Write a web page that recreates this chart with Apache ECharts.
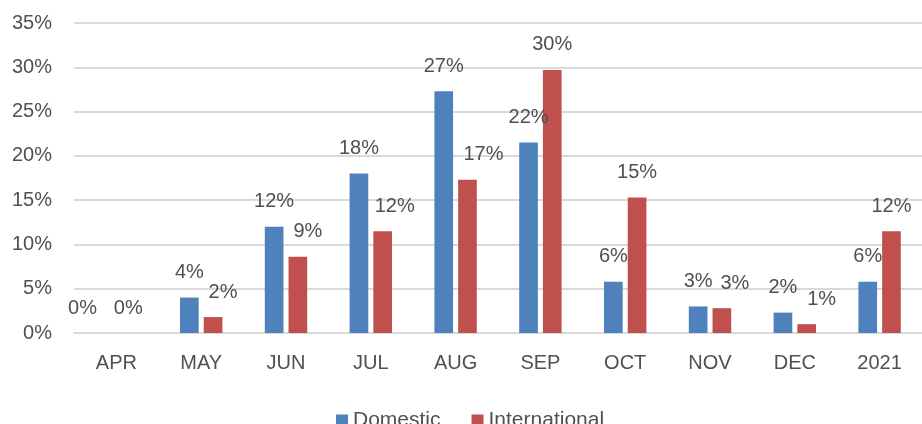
<!DOCTYPE html>
<html>
<head>
<meta charset="utf-8">
<script src="https://cdn.jsdelivr.net/npm/echarts@6/dist/echarts.min.js"></script>
<style>html,body{margin:0;padding:0;background:#fff}#c{width:922px;height:424px}</style>
</head>
<body>
<div id="c"></div>
<script>
var categories = ['APR','MAY','JUN','JUL','AUG','SEP','OCT','NOV','DEC','2021'];
var domestic = [0, 4.0, 12.0, 18.0, 27.3, 21.5, 5.8, 3.0, 2.3, 5.8];
var international = [0, 1.8, 8.6, 11.5, 17.3, 29.7, 15.3, 2.8, 1.0, 11.5];
var yTicks = [0, 5, 10, 15, 20, 25, 30, 35];
// label nudges (presentation only, px)
var domLabelDx = [-22, 0, 0, 0, 0, 0, 0, 0, 0, 0];
var intlLabelDx = [0, 10, 10, 12, 16, 0, 0, 13, 15, 0];

var FONT = 'Liberation Sans';
var TXT = '#505050';
function mk(vals, dx) {
  return vals.map(function (v, i) {
    return { value: v, label: { offset: [dx[i], 0] } };
  });
}
var lbl = {
  show: true, position: 'top', distance: 15,
  color: TXT, fontFamily: FONT, fontSize: 20,
  formatter: function (p) { return Math.round(p.value) + '%'; }
};
var chart = echarts.init(document.getElementById('c'));
chart.setOption({
  animation: false,
  grid: { left: 74, top: 23, width: 850, height: 310, containLabel: false },
  legend: {
    data: ['Domestic', 'International'],
    left: 331, top: 405, itemWidth: 12, itemHeight: 12, itemGap: 31,
    icon: 'rect',
    textStyle: { color: TXT, fontFamily: FONT, fontSize: 21 }
  },
  xAxis: {
    type: 'category', data: categories,
    axisLine: { lineStyle: { color: '#d9d9d9', width: 2 } },
    axisTick: { show: false },
    axisLabel: { color: TXT, fontFamily: FONT, fontSize: 20, margin: 20 }
  },
  yAxis: {
    type: 'value', min: yTicks[0], max: yTicks[yTicks.length - 1], interval: 5,
    axisLine: { show: false }, axisTick: { show: false },
    splitLine: { lineStyle: { color: '#d9d9d9', width: 2 } },
    axisLabel: { color: TXT, fontFamily: FONT, fontSize: 20, margin: 22, formatter: '{value}%' }
  },
  series: [
    { name: 'Domestic', type: 'bar', data: mk(domestic, domLabelDx),
      barGap: '27%', barCategoryGap: '50%',
      itemStyle: { color: '#4F81BD' }, label: lbl },
    { name: 'International', type: 'bar', data: mk(international, intlLabelDx),
      itemStyle: { color: '#C0504D' }, label: lbl }
  ]
});
</script>
</body>
</html>
